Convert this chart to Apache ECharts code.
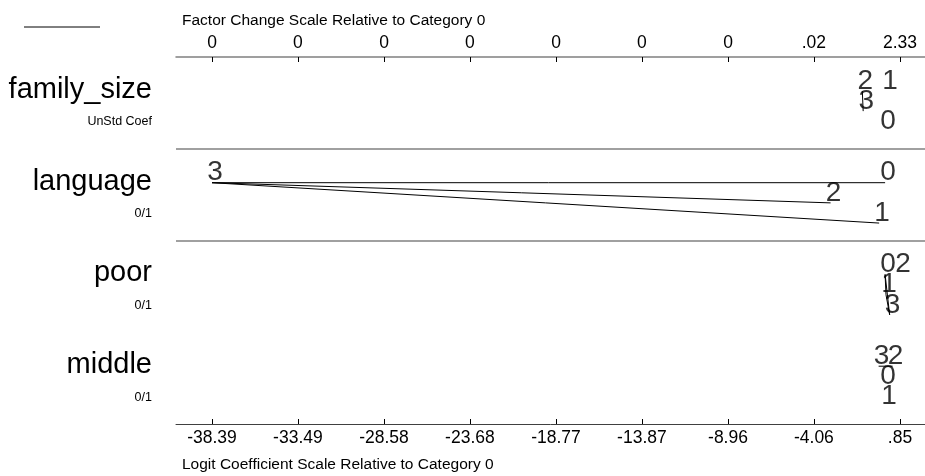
<!DOCTYPE html>
<html>
<head>
<meta charset="utf-8">
<script src="https://cdn.jsdelivr.net/npm/echarts@6/dist/echarts.min.js"></script>
<style>
  html, body { margin: 0; padding: 0; background: #fff; }
  #chart { width: 925px; height: 476px; }
</style>
</head>
<body>
<div id="chart"></div>
<script>
// outcome categories
var categories = ['0', '1', '2', '3']

// variables (rows) and their scale notes
var varNames = ['family_size', 'language', 'poor', 'middle']
var varUnits = ['UnStd Coef', '0/1', '0/1', '0/1']

// logit coefficients relative to category 0, in order of categories
var familyCoef = [0, 0.11, -1.3, -1.25]
var languageCoef = [0, -0.34, -3.11, -38.39]
var poorCoef = [0, 0.05, 0.85, 0.26]
var middleCoef = [0, 0.05, 0.43, -0.37]

// vertical stacking level of each letter (1 = top, 3 = bottom)
var familyLevel = [3, 1, 1, 2]
var languageLevel = [1, 3, 2, 1]
var poorLevel = [1, 2, 1, 3]
var middleLevel = [2, 3, 1, 1]

// pairs of categories joined by a line (not significantly different)
var familyLinks = [['2', '3']]
var languageLinks = [['3', '0'], ['3', '2'], ['3', '1']]
var poorLinks = [['0', '1'], ['0', '3'], ['1', '3']]
var middleLinks = [['3', '2']]

// tick labels
var bottomTicks = ['-38.39', '-33.49', '-28.58', '-23.68', '-18.77', '-13.87', '-8.96', '-4.06', '.85']
var topTicks = ['0', '0', '0', '0', '0', '0', '0', '.02', '2.33']

var tickValues = bottomTicks.map(function(t) { return parseFloat(t) })
var coefs = [familyCoef, languageCoef, poorCoef, middleCoef]
var levels = [familyLevel, languageLevel, poorLevel, middleLevel]
var links = [familyLinks, languageLinks, poorLinks, middleLinks]

var FONT = 'Liberation Sans, Arial, sans-serif'
var levelOffset = { 1: 0.37, 2: 0.59, 3: 0.81 }

// x range padded so the plot runs a bit past the outer ticks
var pxPerUnit = (900 - 212) / (tickValues[8] - tickValues[0])
var xMin = tickValues[0] - 36 / pxPerUnit
var xMax = tickValues[8] + 25 / pxPerUnit

var chart = echarts.init(document.getElementById('chart'))

var series = []
coefs.forEach(function(coef, r) {
  var pts = {}
  var data = coef.map(function(v, i) {
    var p = [v, r + levelOffset[levels[r][i]], categories[i]]
    pts[categories[i]] = p
    return p
  })
  links[r].forEach(function(pair) {
    series.push({
      type: 'line',
      data: [pts[pair[0]].slice(0, 2), pts[pair[1]].slice(0, 2)],
      symbol: 'none',
      silent: true,
      lineStyle: { color: '#000', width: 1 },
      z: 2
    })
  })
  series.push({
    type: 'scatter',
    data: data,
    symbolSize: 0,
    z: 3,
    label: {
      show: true,
      position: 'inside',
      offset: [3, -10],
      formatter: function(p) { return p.data[2] },
      color: '#000',
      textBorderWidth: 0,
      fontFamily: FONT,
      fontSize: 28
    }
  })
})

// row separators
series.push({
  type: 'line',
  data: [],
  markLine: {
    silent: true,
    symbol: 'none',
    label: { show: false },
    lineStyle: { color: '#808080', width: 1.5, type: 'solid' },
    data: [{ yAxis: 1 }, { yAxis: 2 }]
  }
})

var option = {
  animation: false,
  backgroundColor: '#fff',
  title: [
    {
      text: 'Factor Change Scale Relative to Category 0',
      left: 177, top: 8,
      textStyle: { fontFamily: FONT, fontSize: 15.5, fontWeight: 'normal', color: '#000' }
    },
    {
      text: 'Logit Coefficient Scale Relative to Category 0',
      left: 177, top: 452,
      textStyle: { fontFamily: FONT, fontSize: 15.5, fontWeight: 'normal', color: '#000' }
    }
  ],
  graphic: [{
    type: 'line',
    shape: { x1: 24, y1: 27, x2: 100, y2: 27 },
    style: { stroke: '#000', lineWidth: 1 }
  }],
  grid: { left: 176, right: 0, top: 57, bottom: 52 },
  xAxis: [
    {
      type: 'value',
      position: 'bottom',
      min: xMin, max: xMax,
      splitLine: { show: false },
      axisLine: { show: true, onZero: false, lineStyle: { color: '#404040', width: 1 } },
      axisTick: { show: true, inside: true, length: 5, customValues: tickValues, lineStyle: { color: '#000' } },
      axisLabel: {
        customValues: tickValues,
        margin: 5,
        fontFamily: FONT, fontSize: 17.5, color: '#000',
        formatter: function(v) { return bottomTicks[tickValues.indexOf(v)] }
      }
    },
    {
      type: 'value',
      position: 'top',
      min: xMin, max: xMax,
      splitLine: { show: false },
      axisLine: { show: true, onZero: false, lineStyle: { color: '#808080', width: 1.5 } },
      axisTick: { show: true, inside: true, length: 5, customValues: tickValues, lineStyle: { color: '#000' } },
      axisLabel: {
        customValues: tickValues,
        margin: 5,
        fontFamily: FONT, fontSize: 17.5, color: '#000',
        formatter: function(v) { return topTicks[tickValues.indexOf(v)] }
      }
    }
  ],
  yAxis: {
    type: 'value',
    min: 0, max: 4,
    inverse: true,
    splitLine: { show: false },
    axisLine: { show: false },
    axisTick: { show: false },
    axisLabel: {
      customValues: [0.534, 1.534, 2.534, 3.534],
      margin: 24,
      formatter: function(v) {
        var r = Math.floor(v)
        return '{n|' + varNames[r] + '}\n{s|' + varUnits[r] + '}'
      },
      rich: {
        n: { fontFamily: FONT, fontSize: 29, lineHeight: 32, color: '#000', align: 'right' },
        s: { fontFamily: FONT, fontSize: 12.5, lineHeight: 32, color: '#000', align: 'right' }
      }
    }
  },
  series: series
}

chart.setOption(option)
</script>
</body>
</html>
